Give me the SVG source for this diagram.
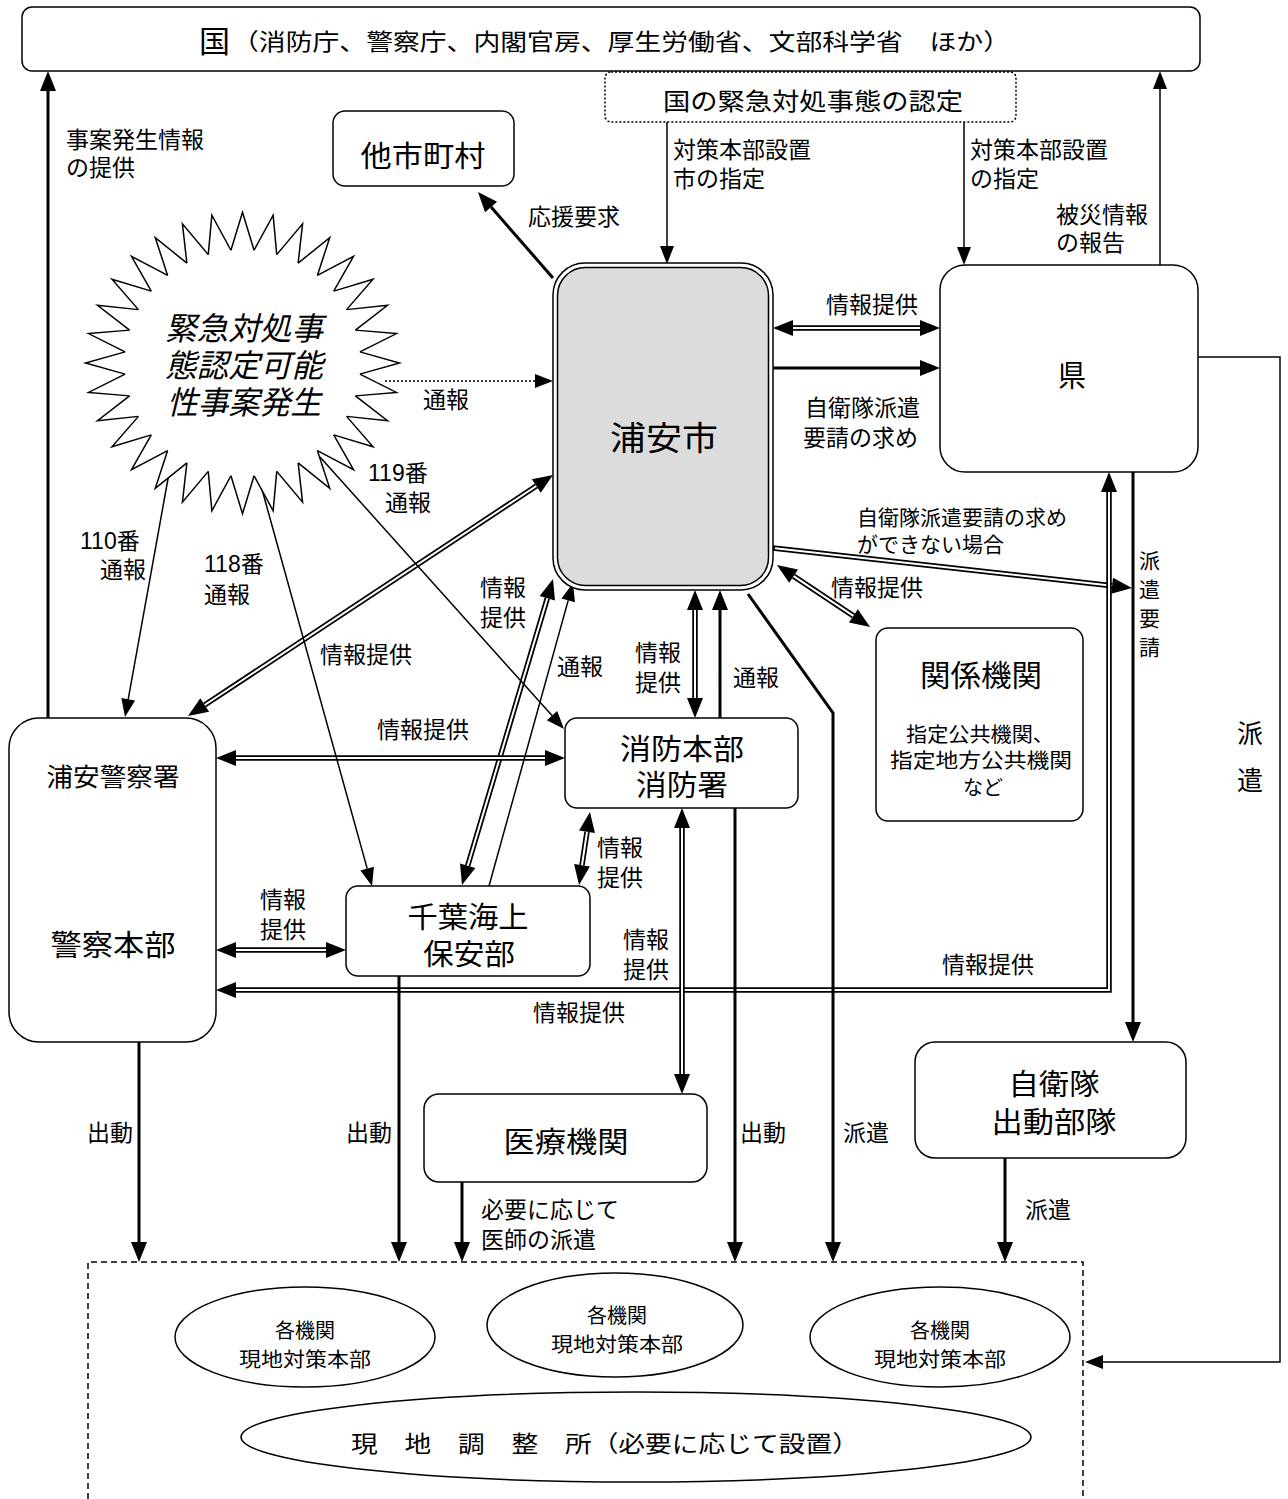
<svg xmlns="http://www.w3.org/2000/svg" xmlns:xlink="http://www.w3.org/1999/xlink" width="1288" height="1499" viewBox="0 0 1288 1499">
<style>
text{font-family:"Liberation Sans","Noto Sans CJK JP",sans-serif;fill:#000}
.lb{font-size:23px}
.sm{font-size:21px}
.nd{font-size:29px;text-anchor:middle}
.ns{font-size:20px;text-anchor:middle}
.box{fill:#fff;stroke:#000;stroke-width:1.5}
.thin{fill:none;stroke:#000;stroke-width:1.5}
.thick{fill:none;stroke:#000;stroke-width:3}
.dot{fill:none;stroke:#000;stroke-width:1.5;stroke-dasharray:2 2}
.dbo{fill:none;stroke:#000;stroke-width:5.5}
.dbi{fill:none;stroke:#fff;stroke-width:2}
</style>
<defs>
<marker id="at" markerUnits="userSpaceOnUse" markerWidth="20" markerHeight="16" refX="0" refY="0" orient="auto-start-reverse" overflow="visible"><path d="M0,-7 L18,0 L0,7 z" fill="#000"/></marker>
<marker id="ak" markerUnits="userSpaceOnUse" markerWidth="22" markerHeight="18" refX="0" refY="0" orient="auto-start-reverse" overflow="visible"><path d="M0,-8 L20,0 L0,8 z" fill="#000"/></marker>
<path id="spk" d="M-11.57,-117.43 L0,-157 L11.57,-117.43" fill="#fff" stroke="#000" stroke-width="1.5"/>
</defs>
<rect width="1288" height="1499" fill="#fff"/>

<g id="connectors">
<g>
<path class="dbo" d="M793,328 H920" marker-start="url(#ak)" marker-end="url(#ak)"/><path class="dbi" d="M793,328 H920"/>
<path class="dbo" d="M536.3,486 L204.7,705" marker-start="url(#ak)" marker-end="url(#ak)"/><path class="dbi" d="M536.3,486 L204.7,705"/>
<path class="dbo" d="M547.3,598.2 L467.7,865.8" marker-start="url(#ak)" marker-end="url(#ak)"/><path class="dbi" d="M547.3,598.2 L467.7,865.8"/>
<path class="dbo" d="M695,610 V698" marker-start="url(#ak)" marker-end="url(#ak)"/><path class="dbi" d="M695,610 V698"/>
<path class="dbo" d="M773,548 L1112.1,585.8" marker-end="url(#ak)"/><path class="dbi" d="M775,548.2 L1112.1,585.8"/>
<path class="dbo" d="M793.6,576.1 L853.4,615.9" marker-start="url(#ak)" marker-end="url(#ak)"/><path class="dbi" d="M793.6,576.1 L853.4,615.9"/>
<path class="dbo" d="M236,990 H1109 V492" marker-start="url(#ak)" marker-end="url(#ak)"/><path class="dbi" d="M236,990 H1109 V492"/>
<path class="dbo" d="M236,758 H545" marker-start="url(#ak)" marker-end="url(#ak)"/><path class="dbi" d="M236,758 H545"/>
<path class="dbo" d="M236,950 H326" marker-start="url(#ak)" marker-end="url(#ak)"/><path class="dbi" d="M236,950 H326"/>
<path class="dbo" d="M587,831.8 L582,865.2" marker-start="url(#ak)" marker-end="url(#ak)"/><path class="dbi" d="M587,831.8 L582,865.2"/>
<path class="dbo" d="M682,828 V1074" marker-start="url(#ak)" marker-end="url(#ak)"/><path class="dbi" d="M682,828 V1074"/>
</g>
<path class="thick" d="M48,718 V91" marker-end="url(#ak)"/>
<path class="thick" d="M553,278 L491.1,207.1" marker-end="url(#ak)"/>
<path class="thick" d="M773,368 H920" marker-end="url(#ak)"/>
<path class="thick" d="M720,718 V610" marker-end="url(#ak)"/>
<path class="thick" d="M748,594 L833,713 V1242" marker-end="url(#ak)"/>
<path class="thick" d="M1133,472 V1022" marker-end="url(#ak)"/>
<path class="thick" d="M139,1042 V1242" marker-end="url(#ak)"/>
<path class="thick" d="M399,976 V1242" marker-end="url(#ak)"/>
<path class="thick" d="M462,1182 V1242" marker-end="url(#ak)"/>
<path class="thick" d="M735,808 V1242" marker-end="url(#ak)"/>
<path class="thick" d="M1005,1158 V1242" marker-end="url(#ak)"/>
<path class="thin" d="M667,122 V246" marker-end="url(#at)"/>
<path class="thin" d="M964,122 V247" marker-end="url(#at)"/>
<path class="thin" d="M1160,265 V89" marker-end="url(#at)"/>
<path class="dot" d="M385,381 H535" marker-end="url(#at)"/>
<path class="thin" d="M320,457 L552,715.6" marker-end="url(#at)"/>
<path class="thin" d="M175,440 L128.2,699.3" marker-end="url(#at)"/>
<path class="thin" d="M258,475 L367.2,868.65" marker-end="url(#at)"/>
<path class="thin" d="M489,886 L568.2,600.35" marker-end="url(#at)"/>
<path class="thin" d="M1198,357 H1280 V1362 H1103" marker-end="url(#at)"/>
</g>

<g id="labels">
<text class="lb" x="66" y="148">事案発生情報</text><text class="lb" x="66" y="176">の提供</text>
<text class="lb" x="673" y="158">対策本部設置</text><text class="lb" x="673" y="187">市の指定</text>
<text class="lb" x="970" y="158">対策本部設置</text><text class="lb" x="970" y="187">の指定</text>
<text class="lb" x="1056" y="223">被災情報</text><text class="lb" x="1056" y="251">の報告</text>
<text class="lb" x="528" y="225">応援要求</text>
<text class="lb" x="826" y="313">情報提供</text>
<text class="lb" x="805" y="416">自衛隊派遣</text><text class="lb" x="803" y="446">要請の求め</text>
<text class="lb" x="423" y="408">通報</text>
<text class="lb" x="368" y="481">119番</text><text class="lb" x="385" y="511">通報</text>
<text class="lb" x="80" y="549">110番</text><text class="lb" x="100" y="578">通報</text>
<text class="lb" x="204" y="572">118番</text><text class="lb" x="204" y="603">通報</text>
<text class="lb" x="320" y="663">情報提供</text>
<text class="lb" x="480" y="596">情報</text><text class="lb" x="480" y="626">提供</text>
<text class="lb" x="557" y="675">通報</text>
<text class="lb" x="635" y="661">情報</text><text class="lb" x="635" y="691">提供</text>
<text class="lb" x="733" y="686">通報</text>
<text class="sm" x="857" y="525">自衛隊派遣要請の求め</text><text class="sm" x="857" y="552">ができない場合</text>
<text class="lb" x="831" y="596">情報提供</text>
<text class="sm" x="1139" y="568">派</text><text class="sm" x="1139" y="597">遣</text><text class="sm" x="1139" y="626">要</text><text class="sm" x="1139" y="655">請</text>
<text style="font-size:26px" x="1237" y="743">派</text><text style="font-size:26px" x="1237" y="790">遣</text>
<text class="lb" x="377" y="738">情報提供</text>
<text class="lb" x="260" y="908">情報</text><text class="lb" x="260" y="938">提供</text>
<text class="lb" x="597" y="856">情報</text><text class="lb" x="597" y="886">提供</text>
<text class="lb" x="623" y="948">情報</text><text class="lb" x="623" y="978">提供</text>
<text class="lb" x="942" y="973">情報提供</text>
<text class="lb" x="533" y="1021">情報提供</text>
<text class="lb" x="87" y="1141">出動</text>
<text class="lb" x="346" y="1141">出動</text>
<text class="lb" x="740" y="1141">出動</text>
<text class="lb" x="843" y="1141">派遣</text>
<text class="lb" x="481" y="1218">必要に応じて</text><text class="lb" x="481" y="1248">医師の派遣</text>
<text class="lb" x="1025" y="1218">派遣</text>
</g>

<g id="n-kuni">
<rect class="box" x="22" y="7" width="1178" height="64" rx="10"/>
<text x="199" y="52" style="font-size:30px" textLength="31" lengthAdjust="spacingAndGlyphs">国</text>
<text x="232" y="50" style="font-size:23px" textLength="778" lengthAdjust="spacingAndGlyphs">（消防庁、警察庁、内閣官房、厚生労働省、文部科学省　ほか）</text>
</g>

<g id="n-nintei">
<rect x="605" y="72" width="411" height="50" rx="6" fill="#fff" stroke="#000" stroke-width="1.5" stroke-dasharray="2 2"/>
<text x="813" y="110" style="font-size:24px;text-anchor:middle" textLength="300" lengthAdjust="spacingAndGlyphs">国の緊急対処事態の認定</text>
</g>

<g id="n-tashi">
<rect class="box" x="333" y="111" width="181" height="75" rx="12"/>
<text class="nd" x="423" y="167" textLength="125" lengthAdjust="spacingAndGlyphs">他市町村</text>
</g>

<g id="n-event">
<g transform="translate(242.5,363) scale(1,0.96)">
<circle r="118" fill="#fff"/>
<use xlink:href="#spk" href="#spk"/>
<use xlink:href="#spk" href="#spk" transform="rotate(11.25)"/>
<use xlink:href="#spk" href="#spk" transform="rotate(22.5)"/>
<use xlink:href="#spk" href="#spk" transform="rotate(33.75)"/>
<use xlink:href="#spk" href="#spk" transform="rotate(45)"/>
<use xlink:href="#spk" href="#spk" transform="rotate(56.25)"/>
<use xlink:href="#spk" href="#spk" transform="rotate(67.5)"/>
<use xlink:href="#spk" href="#spk" transform="rotate(78.75)"/>
<use xlink:href="#spk" href="#spk" transform="rotate(90)"/>
<use xlink:href="#spk" href="#spk" transform="rotate(101.25)"/>
<use xlink:href="#spk" href="#spk" transform="rotate(112.5)"/>
<use xlink:href="#spk" href="#spk" transform="rotate(123.75)"/>
<use xlink:href="#spk" href="#spk" transform="rotate(135)"/>
<use xlink:href="#spk" href="#spk" transform="rotate(146.25)"/>
<use xlink:href="#spk" href="#spk" transform="rotate(157.5)"/>
<use xlink:href="#spk" href="#spk" transform="rotate(168.75)"/>
<use xlink:href="#spk" href="#spk" transform="rotate(180)"/>
<use xlink:href="#spk" href="#spk" transform="rotate(191.25)"/>
<use xlink:href="#spk" href="#spk" transform="rotate(202.5)"/>
<use xlink:href="#spk" href="#spk" transform="rotate(213.75)"/>
<use xlink:href="#spk" href="#spk" transform="rotate(225)"/>
<use xlink:href="#spk" href="#spk" transform="rotate(236.25)"/>
<use xlink:href="#spk" href="#spk" transform="rotate(247.5)"/>
<use xlink:href="#spk" href="#spk" transform="rotate(258.75)"/>
<use xlink:href="#spk" href="#spk" transform="rotate(270)"/>
<use xlink:href="#spk" href="#spk" transform="rotate(281.25)"/>
<use xlink:href="#spk" href="#spk" transform="rotate(292.5)"/>
<use xlink:href="#spk" href="#spk" transform="rotate(303.75)"/>
<use xlink:href="#spk" href="#spk" transform="rotate(315)"/>
<use xlink:href="#spk" href="#spk" transform="rotate(326.25)"/>
<use xlink:href="#spk" href="#spk" transform="rotate(337.5)"/>
<use xlink:href="#spk" href="#spk" transform="rotate(348.75)"/>
</g>
<text x="244" y="340" style="font-size:32px;font-style:italic;text-anchor:middle" textLength="158" lengthAdjust="spacingAndGlyphs">緊急対処事</text>
<text x="244" y="377" style="font-size:32px;font-style:italic;text-anchor:middle" textLength="158" lengthAdjust="spacingAndGlyphs">態認定可能</text>
<text x="244" y="414" style="font-size:32px;font-style:italic;text-anchor:middle" textLength="154" lengthAdjust="spacingAndGlyphs">性事案発生</text>
</g>

<g id="n-urayasu">
<rect x="553" y="263" width="220" height="327" rx="32" fill="#fff" stroke="#000" stroke-width="1.5"/>
<rect x="557.5" y="267.5" width="211" height="318" rx="28" fill="#dcdcdc" stroke="#000" stroke-width="1.5"/>
<text x="664" y="450" style="font-size:33px;text-anchor:middle" textLength="108" lengthAdjust="spacingAndGlyphs">浦安市</text>
</g>

<g id="n-ken">
<rect class="box" x="940" y="265" width="258" height="207" rx="25"/>
<text class="nd" x="1072" y="386" style="font-size:30px" textLength="28" lengthAdjust="spacingAndGlyphs">県</text>
</g>

<g id="n-kankei">
<rect class="box" x="876" y="628" width="207" height="193" rx="12"/>
<text class="nd" x="981" y="686" style="font-size:30px" textLength="122" lengthAdjust="spacingAndGlyphs">関係機関</text>
<text class="ns" x="980" y="742" textLength="148" lengthAdjust="spacingAndGlyphs">指定公共機関、</text>
<text class="ns" x="981" y="768" textLength="182" lengthAdjust="spacingAndGlyphs">指定地方公共機関</text>
<text class="ns" x="983" y="795">など</text>
</g>

<g id="n-police">
<rect class="box" x="9" y="718" width="207" height="324" rx="30"/>
<text class="nd" x="113" y="786" style="font-size:25px" textLength="133" lengthAdjust="spacingAndGlyphs">浦安警察署</text>
<text class="nd" x="113" y="956" textLength="125" lengthAdjust="spacingAndGlyphs">警察本部</text>
</g>

<g id="n-fire">
<rect class="box" x="565" y="718" width="233" height="90" rx="12"/>
<text class="nd" x="682" y="760" textLength="124" lengthAdjust="spacingAndGlyphs">消防本部</text>
<text class="nd" x="682" y="796" textLength="92" lengthAdjust="spacingAndGlyphs">消防署</text>
</g>

<g id="n-coast">
<rect class="box" x="346" y="886" width="244" height="90" rx="12"/>
<text class="nd" x="468" y="928" textLength="121" lengthAdjust="spacingAndGlyphs">千葉海上</text>
<text class="nd" x="469" y="965" textLength="92" lengthAdjust="spacingAndGlyphs">保安部</text>
</g>

<g id="n-medical">
<rect class="box" x="424" y="1094" width="283" height="88" rx="15"/>
<text class="nd" x="566" y="1153" textLength="125" lengthAdjust="spacingAndGlyphs">医療機関</text>
</g>

<g id="n-sdf">
<rect class="box" x="915" y="1042" width="271" height="116" rx="20"/>
<text class="nd" x="1054" y="1095" textLength="91" lengthAdjust="spacingAndGlyphs">自衛隊</text>
<text class="nd" x="1054" y="1133" textLength="125" lengthAdjust="spacingAndGlyphs">出動部隊</text>
</g>

<g id="n-site">
<path d="M88,1499 V1262 H1083 V1499" fill="none" stroke="#000" stroke-width="1.5" stroke-dasharray="6 4"/>
</g>

<g id="n-hq1">
<ellipse class="box" cx="305" cy="1337" rx="130" ry="50"/>
<text class="ns" x="305" y="1338">各機関</text>
<text class="ns" x="305" y="1367" textLength="132" lengthAdjust="spacingAndGlyphs">現地対策本部</text>
</g>
<g id="n-hq2">
<ellipse class="box" cx="615" cy="1325" rx="128" ry="52"/>
<text class="ns" x="617" y="1323">各機関</text>
<text class="ns" x="617" y="1352" textLength="132" lengthAdjust="spacingAndGlyphs">現地対策本部</text>
</g>
<g id="n-hq3">
<ellipse class="box" cx="940" cy="1337" rx="130" ry="50"/>
<text class="ns" x="940" y="1338">各機関</text>
<text class="ns" x="940" y="1367" textLength="132" lengthAdjust="spacingAndGlyphs">現地対策本部</text>
</g>
<g id="n-chousei">
<ellipse class="box" cx="636" cy="1437" rx="395" ry="45"/>
<text x="605" y="1452" style="font-size:23px;text-anchor:middle" textLength="508" lengthAdjust="spacingAndGlyphs">現　地　調　整　所（必要に応じて設置）</text>
</g>
</svg>
